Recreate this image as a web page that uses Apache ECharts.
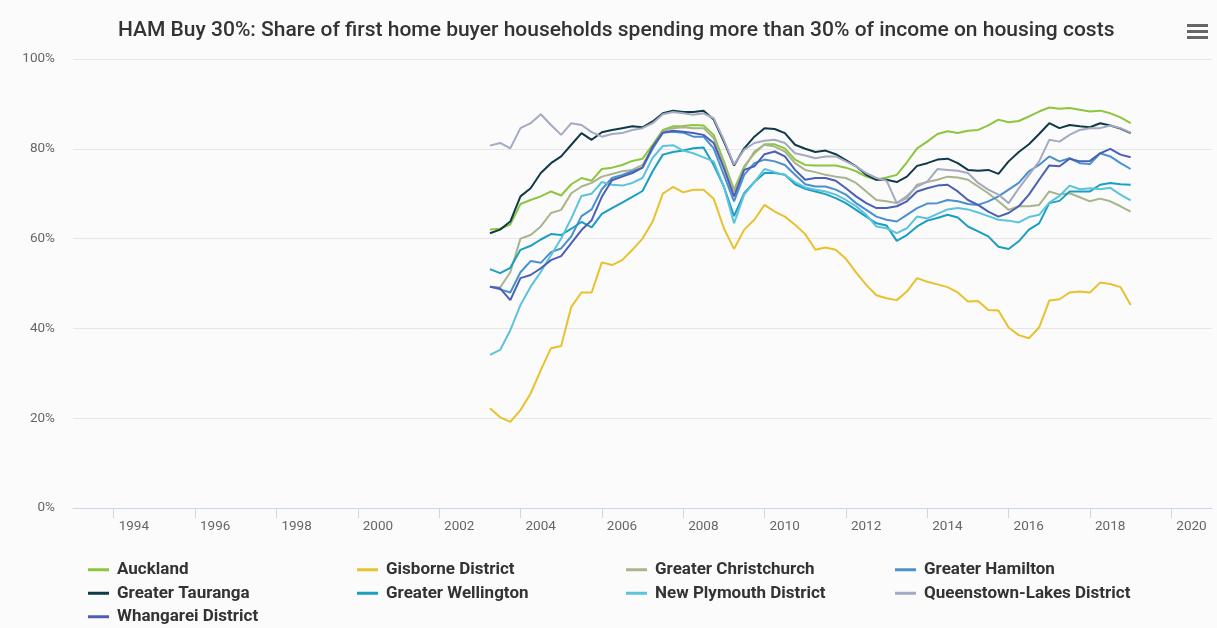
<!DOCTYPE html>
<html>
<head>
<meta charset="utf-8">
<script src="https://cdn.jsdelivr.net/npm/echarts@6.0.0/dist/echarts.min.js"></script>
<style>
html, body { margin: 0; padding: 0; background: #fbfbfb; }
#chart { width: 1217px; height: 628px; }
</style>
</head>
<body>
<div id="chart"></div>
<script>
// quarter ends, as decimal years (Q1 2003 .. Q4 2018)
const quarters = [
  2003.25, 2003.5, 2003.75, 2004, 2004.25, 2004.5, 2004.75, 2005,
  2005.25, 2005.5, 2005.75, 2006, 2006.25, 2006.5, 2006.75, 2007,
  2007.25, 2007.5, 2007.75, 2008, 2008.25, 2008.5, 2008.75, 2009,
  2009.25, 2009.5, 2009.75, 2010, 2010.25, 2010.5, 2010.75, 2011,
  2011.25, 2011.5, 2011.75, 2012, 2012.25, 2012.5, 2012.75, 2013,
  2013.25, 2013.5, 2013.75, 2014, 2014.25, 2014.5, 2014.75, 2015,
  2015.25, 2015.5, 2015.75, 2016, 2016.25, 2016.5, 2016.75, 2017,
  2017.25, 2017.5, 2017.75, 2018, 2018.25, 2018.5, 2018.75, 2019
]
const yearTicks = [1994, 1996, 1998, 2000, 2002, 2004, 2006, 2008, 2010, 2012, 2014, 2016, 2018, 2020]

const names = [
  'Auckland', 'Gisborne District', 'Greater Christchurch', 'Greater Hamilton',
  'Greater Tauranga', 'Greater Wellington', 'New Plymouth District',
  'Queenstown-Lakes District', 'Whangarei District'
]

const auckland = [62.0, 62.2, 63.1, 67.7, 68.6, 69.4, 70.5, 69.6, 72.1, 73.5, 72.9, 75.5, 75.8, 76.4, 77.3, 77.8,
  80.9, 84.2, 85.0, 85.1, 85.3, 85.2, 83.1, 77.2, 70.9, 76.1, 79.0, 81.0, 81.0, 80.1, 77.6, 76.4,
  76.3, 76.3, 76.3, 75.8, 75.0, 73.8, 73.1, 73.6, 74.2, 77.0, 80.1, 81.6, 83.3, 83.9, 83.5, 84.0,
  84.2, 85.2, 86.5, 85.9, 86.2, 87.2, 88.3, 89.2, 88.9, 89.1, 88.7, 88.3, 88.5, 87.9, 87.0, 85.7]
const gisborne = [22.2, 20.2, 19.2, 21.8, 25.5, 30.7, 35.6, 36.1, 44.8, 48.0, 48.0, 54.7, 54.1, 55.2, 57.5, 60.0,
  63.8, 70.0, 71.5, 70.3, 70.9, 70.9, 68.9, 62.3, 57.7, 62.0, 64.2, 67.5, 66.0, 64.9, 63.1, 61.0,
  57.5, 58.0, 57.5, 55.5, 52.5, 49.7, 47.4, 46.7, 46.3, 48.2, 51.2, 50.4, 49.8, 49.2, 48.0, 46.0,
  46.1, 44.1, 44.0, 40.2, 38.5, 37.8, 40.2, 46.2, 46.5, 48.0, 48.2, 48.0, 50.2, 49.9, 49.2, 45.2]
const christchurch = [49.3, 49.1, 52.5, 60.0, 60.8, 62.7, 65.7, 66.4, 70.1, 71.6, 72.4, 73.8, 74.4, 75.0, 75.3, 76.4,
  80.3, 83.9, 84.6, 84.8, 84.6, 84.6, 82.4, 76.4, 70.5, 75.7, 79.4, 80.9, 80.5, 79.4, 76.8, 75.3,
  74.8, 74.2, 73.8, 73.5, 72.4, 70.5, 68.6, 68.3, 67.9, 69.0, 72.0, 72.6, 73.1, 73.8, 73.6, 73.1,
  71.6, 70.1, 68.3, 66.4, 67.2, 67.2, 67.5, 70.5, 69.8, 70.1, 69.2, 68.3, 68.9, 68.3, 67.2, 66.0]
const hamilton = [49.3, 48.7, 48.0, 52.5, 55.0, 54.6, 57.0, 57.8, 60.5, 65.0, 66.5, 71.0, 73.5, 74.2, 75.0, 75.8,
  80.0, 83.6, 83.8, 83.6, 82.7, 82.7, 80.1, 74.2, 68.3, 74.2, 76.8, 77.6, 77.2, 76.4, 74.2, 72.1,
  71.6, 71.6, 70.9, 69.8, 67.9, 66.4, 64.9, 64.2, 63.8, 65.3, 66.8, 67.8, 67.9, 68.6, 68.3, 67.7,
  67.5, 68.3, 69.4, 70.9, 72.4, 75.0, 76.4, 78.3, 77.2, 77.9, 76.8, 76.6, 79.0, 78.3, 76.8, 75.5]
const tauranga = [61.2, 62.0, 63.8, 69.4, 71.2, 74.6, 76.8, 78.3, 80.9, 83.5, 82.0, 83.7, 84.2, 84.6, 85.0, 84.8,
  86.1, 87.9, 88.5, 88.2, 88.2, 88.5, 86.5, 81.6, 76.3, 80.1, 82.7, 84.6, 84.4, 83.5, 80.9, 80.0,
  79.3, 79.6, 78.8, 77.5, 76.1, 74.2, 73.1, 73.1, 72.6, 73.8, 76.2, 76.8, 77.6, 77.8, 76.8, 75.3,
  75.1, 75.3, 74.4, 77.2, 79.3, 81.0, 83.3, 85.7, 84.6, 85.3, 85.0, 84.8, 85.7, 85.2, 84.5, 83.5]
const wellington = [53.2, 52.3, 53.5, 57.5, 58.4, 59.8, 61.0, 60.8, 62.2, 63.7, 62.5, 65.5, 66.8, 68.0, 69.3, 70.6,
  75.0, 78.7, 79.3, 79.6, 80.1, 80.3, 76.4, 71.6, 65.0, 70.1, 72.6, 74.6, 74.6, 74.2, 72.1, 71.1,
  70.5, 69.9, 69.0, 67.9, 66.4, 64.9, 63.4, 62.9, 59.5, 60.8, 62.7, 64.0, 64.6, 65.3, 64.7, 62.7,
  61.6, 60.5, 58.2, 57.7, 59.4, 62.0, 63.4, 67.9, 68.4, 70.5, 70.5, 70.5, 72.0, 72.4, 72.1, 72.0]
const newPlymouth = [34.1, 35.2, 39.6, 45.2, 49.3, 52.6, 56.3, 60.0, 64.5, 69.5, 70.0, 72.6, 72.0, 71.8, 72.4, 73.5,
  78.0, 80.6, 80.8, 79.6, 79.0, 78.1, 77.2, 71.6, 63.4, 69.8, 72.6, 75.5, 74.8, 74.2, 72.6, 71.4,
  70.9, 70.5, 69.8, 68.6, 67.2, 65.3, 62.7, 62.3, 61.2, 62.3, 64.9, 64.5, 65.5, 66.5, 66.8, 66.5,
  65.8, 65.0, 64.2, 64.0, 63.6, 64.8, 65.3, 68.0, 69.5, 71.8, 71.0, 71.2, 71.0, 71.3, 69.8, 68.5]
const queenstown = [80.7, 81.3, 80.1, 84.6, 85.7, 87.7, 85.3, 83.1, 85.7, 85.3, 83.7, 82.7, 83.3, 83.5, 84.2, 84.6,
  85.7, 87.7, 88.2, 87.9, 87.6, 87.9, 86.8, 82.0, 76.5, 79.8, 81.3, 81.8, 82.0, 81.3, 79.0, 78.5,
  77.9, 78.3, 78.3, 77.2, 76.1, 74.6, 73.5, 72.9, 67.9, 69.5, 71.6, 72.7, 75.5, 75.3, 75.1, 74.6,
  72.4, 70.9, 69.8, 67.9, 71.2, 74.2, 77.2, 82.0, 81.6, 83.1, 84.2, 84.6, 84.6, 85.2, 84.6, 83.6]
const whangarei = [49.3, 48.9, 46.3, 51.2, 51.9, 53.4, 55.2, 56.1, 59.0, 61.9, 64.1, 69.3, 73.0, 73.8, 74.6, 75.8,
  80.5, 83.6, 84.0, 83.8, 83.5, 83.1, 81.3, 75.7, 69.4, 75.3, 76.1, 78.8, 79.4, 78.3, 75.3, 73.1,
  73.5, 73.5, 72.9, 71.2, 69.4, 67.9, 66.8, 66.8, 67.2, 68.3, 70.5, 71.2, 71.8, 72.0, 70.5, 68.6,
  67.5, 66.0, 64.9, 65.7, 67.2, 69.8, 73.1, 76.3, 76.1, 77.8, 77.2, 77.3, 79.0, 80.0, 78.7, 78.1]

const values = [auckland, gisborne, christchurch, hamilton, tauranga, wellington, newPlymouth, queenstown, whangarei]
const colors = ['#8cc63f', '#e8c22c', '#a9b48c', '#4a90cf', '#0f3a47', '#1a9ec1', '#5cc3dd', '#a3aac1', '#4b60b5']

const chart = echarts.init(document.getElementById('chart'))

const series = names.map((name, k) => ({
    type: 'line',
    name: name,
    data: quarters.map((q, i) => [q, values[k][i]]),
    showSymbol: false,
    symbol: 'none',
    lineStyle: { width: 2, color: colors[k] },
    itemStyle: { color: colors[k] },
    emphasis: { disabled: true },
}))

chart.setOption({
    animation: false,
    backgroundColor: '#fbfbfb',
    title: {
        text: 'HAM Buy 30%: Share of first home buyer households spending more than 30% of income on housing costs',
        left: 113,
        top: 15,
        textStyle: { fontFamily: 'Roboto', fontSize: 21, fontWeight: 500, color: '#333' },
    },
    legend: {
        data: names,
        left: 88,
        top: 558,
        width: 1090,
        padding: 0,
        itemGap: 0,
        itemWidth: 21,
        itemHeight: 3,
        icon: 'rect',
        textStyle: {
            fontFamily: 'Roboto',
            fontWeight: 'bold',
            fontSize: 17,
            color: '#333',
            width: 240,
            lineHeight: 23.5,
            padding: [0, 0, 0, 3],
        },
    },
    grid: { left: 73, right: 5, top: 59, bottom: 120 },
    xAxis: {
        type: 'value',
        min: 1993,
        max: 2021,
        axisLine: { lineStyle: { color: '#ccd6eb' } },
        axisTick: { show: true, length: 10, customValues: yearTicks, lineStyle: { color: '#ccd6eb' } },
        axisLabel: {
            customValues: yearTicks,
            formatter: (v) => String(v),
            align: 'left',
            padding: [0, 0, 0, 5],
            margin: 12,
            color: '#666',
            fontFamily: 'Roboto',
            fontSize: 13.5,
        },
        splitLine: { show: false },
    },
    yAxis: {
        type: 'value',
        min: 0,
        max: 100,
        interval: 20,
        axisLine: { show: false },
        axisTick: { show: false },
        axisLabel: { formatter: '{value}%', margin: 18, color: '#666', fontFamily: 'Roboto', fontSize: 13.5 },
        splitLine: { lineStyle: { color: '#e6e6e6' } },
    },
    graphic: [
        { type: 'rect', left: 1187, top: 24, shape: { width: 21, height: 3 }, style: { fill: '#666' } },
        { type: 'rect', left: 1187, top: 30, shape: { width: 21, height: 3 }, style: { fill: '#666' } },
        { type: 'rect', left: 1187, top: 36, shape: { width: 21, height: 3 }, style: { fill: '#666' } },
    ],
    series: series,
})
</script>
</body>
</html>
